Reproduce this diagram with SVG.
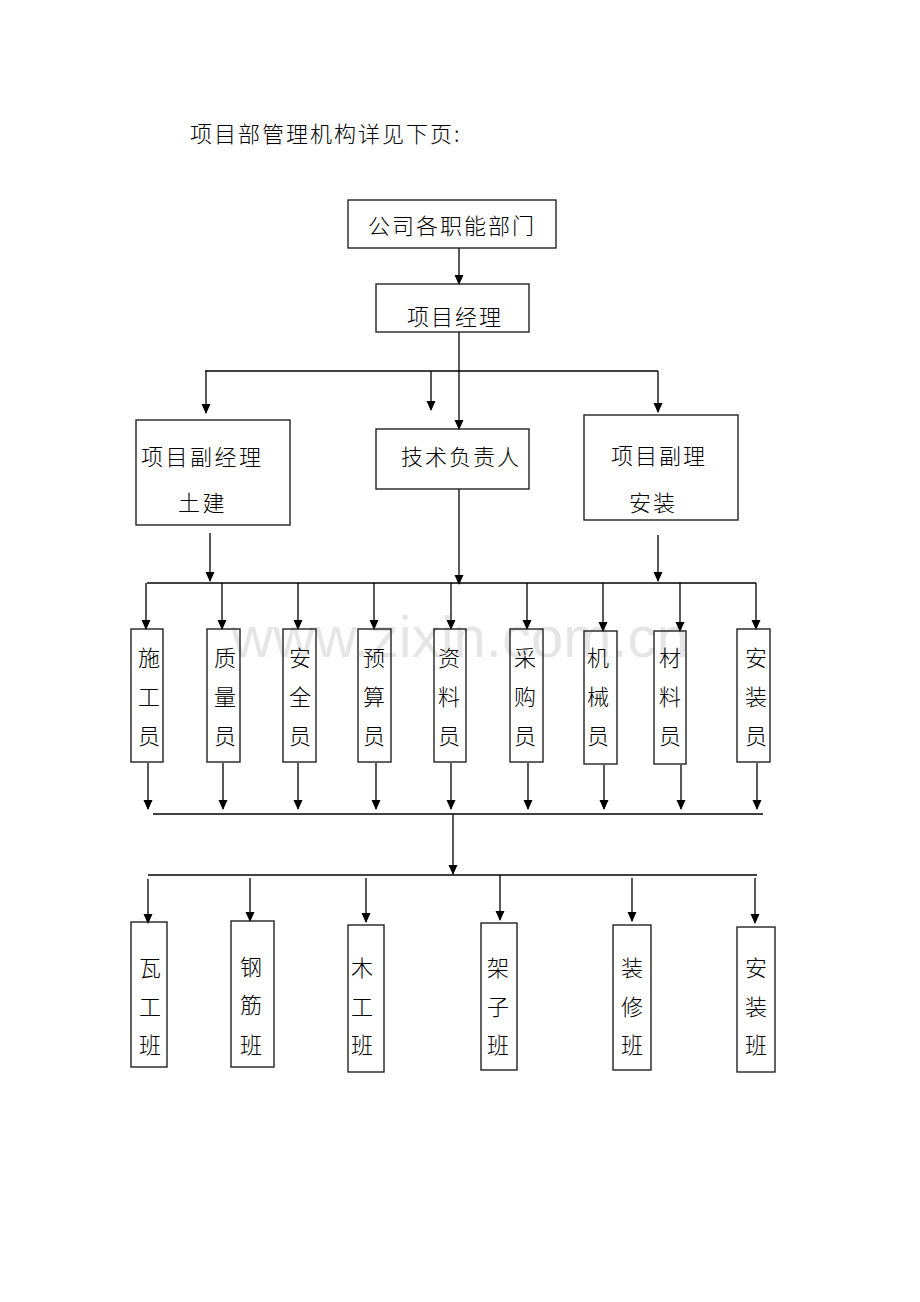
<svg xmlns="http://www.w3.org/2000/svg" width="920" height="1302" viewBox="0 0 920 1302">
<style>
.bx{fill:none;stroke:#222;stroke-width:1.4}
.ln{fill:none;stroke:#000;stroke-width:1.3}
.ar{fill:none;stroke:#000;stroke-width:1.3;marker-end:url(#ah)}
text{font-family:"Noto Sans CJK SC","Noto Sans",sans-serif;font-size:22px;fill:#000;font-weight:300}
.c{text-anchor:middle}
.wm{font-family:"Liberation Sans",Arial,sans-serif;font-size:58px;fill:#000;fill-opacity:0.1;font-weight:400}
</style>
<defs>
<marker id="ah" markerUnits="userSpaceOnUse" markerWidth="10" markerHeight="13" refX="9" refY="4.5" orient="auto">
<path d="M0,0 L10,4.5 L0,9 Z" fill="#000"/>
</marker>
</defs>
<rect width="920" height="1302" fill="#fff"/>
<text class="wm" x="460" y="657" text-anchor="middle">www.zixin.com.cn</text>
<text x="190" y="142" letter-spacing="2">项目部管理机构详见下页:</text>

<g id="connectors">
<line class="ar" x1="459" y1="248" x2="459" y2="284"/>
<line class="ar" x1="459" y1="332" x2="459" y2="429"/>
<line class="ln" x1="205" y1="371" x2="658" y2="371"/>
<line class="ar" x1="206" y1="371" x2="206" y2="413"/>
<line class="ar" x1="431" y1="371" x2="431" y2="410"/>
<line class="ar" x1="658" y1="371" x2="658" y2="412"/>
<line class="ar" x1="210" y1="533" x2="210" y2="581"/>
<line class="ar" x1="459" y1="489" x2="459" y2="584"/>
<line class="ar" x1="658" y1="535" x2="658" y2="581"/>
<line class="ln" x1="147" y1="583" x2="756" y2="583"/>
<line class="ar" x1="146" y1="583" x2="146" y2="629"/>
<line class="ar" x1="222" y1="583" x2="222" y2="629"/>
<line class="ar" x1="298" y1="583" x2="298" y2="629"/>
<line class="ar" x1="374" y1="583" x2="374" y2="629"/>
<line class="ar" x1="451" y1="583" x2="451" y2="629"/>
<line class="ar" x1="527" y1="583" x2="527" y2="629"/>
<line class="ar" x1="603" y1="583" x2="603" y2="631"/>
<line class="ar" x1="680" y1="583" x2="680" y2="631"/>
<line class="ar" x1="756" y1="583" x2="756" y2="629"/>
<line class="ar" x1="148" y1="763" x2="148" y2="809"/>
<line class="ar" x1="223" y1="763" x2="223" y2="809"/>
<line class="ar" x1="298" y1="763" x2="298" y2="809"/>
<line class="ar" x1="376" y1="763" x2="376" y2="809"/>
<line class="ar" x1="451" y1="763" x2="451" y2="809"/>
<line class="ar" x1="528" y1="763" x2="528" y2="809"/>
<line class="ar" x1="604" y1="765" x2="604" y2="809"/>
<line class="ar" x1="681" y1="765" x2="681" y2="809"/>
<line class="ar" x1="757" y1="763" x2="757" y2="809"/>
<line class="ln" x1="153" y1="814" x2="763" y2="814"/>
<line class="ar" x1="453" y1="814" x2="453" y2="874"/>
<line class="ln" x1="148" y1="875" x2="757" y2="875"/>
<line class="ar" x1="148" y1="879" x2="148" y2="923"/>
<line class="ar" x1="250" y1="878" x2="250" y2="921"/>
<line class="ar" x1="366" y1="878" x2="366" y2="922"/>
<line class="ar" x1="500" y1="875" x2="500" y2="920"/>
<line class="ar" x1="632" y1="878" x2="632" y2="921"/>
<line class="ar" x1="755" y1="878" x2="755" y2="923"/>
</g>

<g id="n-company"><rect class="bx" x="348" y="200" width="208" height="48"/><text class="c" x="452" y="234" letter-spacing="2">公司各职能部门</text></g>
<g id="n-pm"><rect class="bx" x="376" y="284" width="153" height="48"/><text class="c" x="455" y="325" letter-spacing="2">项目经理</text></g>
<g id="n-deputy-civil"><rect class="bx" x="136" y="420" width="154" height="105"/><text x="141" y="465" letter-spacing="2.5">项目副经理</text><text x="178" y="511" letter-spacing="2.5">土建</text></g>
<g id="n-tech"><rect class="bx" x="376" y="429" width="153" height="60"/><text x="401" y="465" letter-spacing="2">技术负责人</text></g>
<g id="n-deputy-install"><rect class="bx" x="584" y="415" width="154" height="105"/><text x="611" y="464" letter-spacing="2">项目副理</text><text x="629" y="511" letter-spacing="2">安装</text></g>

<g id="n-r1"><rect class="bx" x="131" y="629" width="32" height="133"/><text class="c" x="149" y="666">施</text><text class="c" x="149" y="705">工</text><text class="c" x="149" y="744">员</text></g>
<g id="n-r2"><rect class="bx" x="207" y="629" width="33" height="133"/><text class="c" x="225" y="666">质</text><text class="c" x="225" y="705">量</text><text class="c" x="225" y="744">员</text></g>
<g id="n-r3"><rect class="bx" x="283" y="629" width="33" height="133"/><text class="c" x="300" y="666">安</text><text class="c" x="300" y="705">全</text><text class="c" x="300" y="744">员</text></g>
<g id="n-r4"><rect class="bx" x="358" y="629" width="33" height="133"/><text class="c" x="374" y="666">预</text><text class="c" x="374" y="705">算</text><text class="c" x="374" y="744">员</text></g>
<g id="n-r5"><rect class="bx" x="434" y="629" width="32" height="133"/><text class="c" x="449" y="666">资</text><text class="c" x="449" y="705">料</text><text class="c" x="449" y="744">员</text></g>
<g id="n-r6"><rect class="bx" x="510" y="629" width="33" height="133"/><text class="c" x="525" y="666">采</text><text class="c" x="525" y="705">购</text><text class="c" x="525" y="744">员</text></g>
<g id="n-r7"><rect class="bx" x="584" y="631" width="33" height="133"/><text class="c" x="598" y="666">机</text><text class="c" x="598" y="705">械</text><text class="c" x="598" y="744">员</text></g>
<g id="n-r8"><rect class="bx" x="654" y="631" width="32" height="133"/><text class="c" x="670" y="666">材</text><text class="c" x="670" y="705">料</text><text class="c" x="670" y="744">员</text></g>
<g id="n-r9"><rect class="bx" x="737" y="629" width="33" height="133"/><text class="c" x="756" y="666">安</text><text class="c" x="756" y="705">装</text><text class="c" x="756" y="744">员</text></g>

<g id="n-t1"><rect class="bx" x="131" y="922" width="36" height="145"/><text class="c" x="150" y="976">瓦</text><text class="c" x="150" y="1015">工</text><text class="c" x="150" y="1053">班</text></g>
<g id="n-t2"><rect class="bx" x="231" y="921" width="43" height="146"/><text class="c" x="251" y="975">钢</text><text class="c" x="251" y="1013">筋</text><text class="c" x="251" y="1053">班</text></g>
<g id="n-t3"><rect class="bx" x="348" y="925" width="36" height="147"/><text class="c" x="362" y="976">木</text><text class="c" x="362" y="1015">工</text><text class="c" x="362" y="1053">班</text></g>
<g id="n-t4"><rect class="bx" x="481" y="923" width="36" height="147"/><text class="c" x="498" y="976">架</text><text class="c" x="498" y="1015">子</text><text class="c" x="498" y="1053">班</text></g>
<g id="n-t5"><rect class="bx" x="613" y="925" width="38" height="145"/><text class="c" x="632" y="976">装</text><text class="c" x="632" y="1015">修</text><text class="c" x="632" y="1053">班</text></g>
<g id="n-t6"><rect class="bx" x="737" y="927" width="38" height="145"/><text class="c" x="756" y="976">安</text><text class="c" x="756" y="1015">装</text><text class="c" x="756" y="1053">班</text></g>
</svg>
